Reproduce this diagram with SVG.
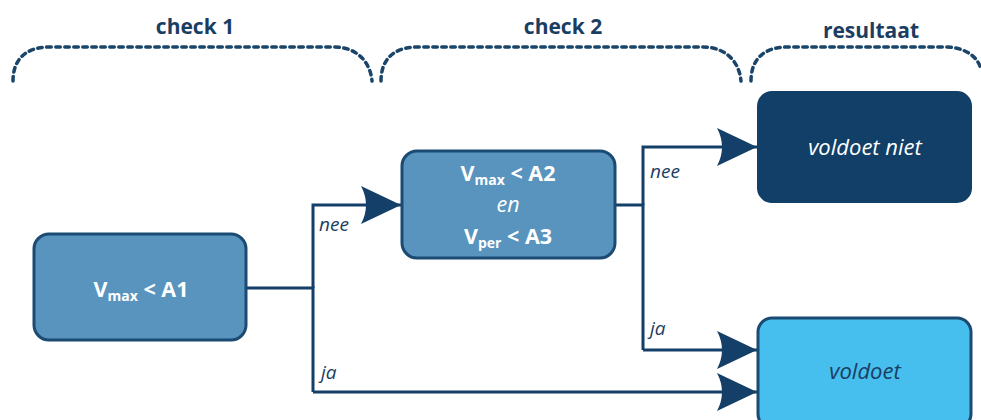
<svg xmlns="http://www.w3.org/2000/svg" width="981" height="420" viewBox="0 0 981 420">
  <style>
    .brace { fill: none; stroke: #1a4569; stroke-width: 3.5; stroke-dasharray: 4.5 4.5; stroke-linecap: round; }
    .head { font-family: "Open Sans", "Liberation Sans", sans-serif; font-weight: bold; font-size: 21px; fill: #1a3e62; text-anchor: middle; }
    .wire { fill: none; stroke: #143f68; stroke-width: 3; }
    .lbl { font-family: "Open Sans", "Liberation Sans", sans-serif; font-style: italic; font-size: 19px; fill: #1a3e62; }
    .mid { fill: #5894be; stroke: #1b4a72; stroke-width: 3; }
    .cond { font-family: "Open Sans", "Liberation Sans", sans-serif; font-weight: bold; font-size: 21.5px; fill: #ffffff; text-anchor: middle; }
    .sub { font-size: 14px; }
    .res { font-family: "Open Sans", "Liberation Sans", sans-serif; font-style: italic; font-size: 22px; text-anchor: middle; }
  </style>
  <defs>
    <marker id="arrow" viewBox="0 0 40 38" refX="40" refY="19" markerWidth="40" markerHeight="38" markerUnits="userSpaceOnUse" orient="auto">
      <path d="M0,0 L40,19 L0,38 Q10,19 0,0 Z" fill="#143f68"/>
    </marker>
  </defs>

  <!-- column braces -->
  <g id="braces">
    <path class="brace" d="M13,81 C13,60 25,47 50,47 L334,47 C355,47 370,60 372,81"/>
    <path class="brace" d="M381,81 C381,60 393,47 418,47 L703,47 C724,47 739,60 741,81"/>
    <path class="brace" d="M751,81 C751,60 763,47 788,47 L945,47 C966,47 979,58 981,70"/>
    <text class="head" x="195" y="34">check 1</text>
    <text class="head" x="563" y="34">check 2</text>
    <text class="head" x="871" y="38">resultaat</text>
  </g>

  <!-- connectors -->
  <g id="connectors">
    <path class="wire" d="M246,288 H313 V392"/>
    <path class="wire" d="M313,288 V205 H401" marker-end="url(#arrow)"/>
    <path class="wire" d="M313,392 H757" marker-end="url(#arrow)"/>
    <path class="wire" d="M615,205 H643 V350"/>
    <path class="wire" d="M643,205 V147 H757" marker-end="url(#arrow)"/>
    <path class="wire" d="M643,350 H757" marker-end="url(#arrow)"/>
    <text class="lbl" x="319" y="231">nee</text>
    <text class="lbl" x="650" y="178">nee</text>
    <text class="lbl" x="650" y="335">ja</text>
    <text class="lbl" x="321" y="379">ja</text>
  </g>

  <g id="check1">
    <rect class="mid" x="34" y="234" width="212" height="106" rx="15"/>
    <text class="cond" x="141" y="297">V<tspan class="sub" dy="4">max</tspan><tspan dy="-4"> &lt; A1</tspan></text>
  </g>

  <g id="check2">
    <rect class="mid" x="402" y="151" width="213" height="107" rx="15"/>
    <text class="cond" x="508" y="181">V<tspan class="sub" dy="4">max</tspan><tspan dy="-4"> &lt; A2</tspan></text>
    <text class="cond" x="508" y="212" style="font-weight:normal;font-style:italic;">en</text>
    <text class="cond" x="508" y="244">V<tspan class="sub" dy="4">per</tspan><tspan dy="-4"> &lt; A3</tspan></text>
  </g>

  <g id="fail">
    <rect x="758" y="92" width="213" height="110" rx="14" fill="#113f67" stroke="#113f67" stroke-width="2"/>
    <text class="res" x="865" y="155" fill="#ffffff">voldoet niet</text>
  </g>

  <g id="pass">
    <rect x="758" y="318" width="213" height="110" rx="14" fill="#47bfee" stroke="#1b4a72" stroke-width="3"/>
    <text class="res" x="865" y="379" fill="#1a3e62">voldoet</text>
  </g>
</svg>
